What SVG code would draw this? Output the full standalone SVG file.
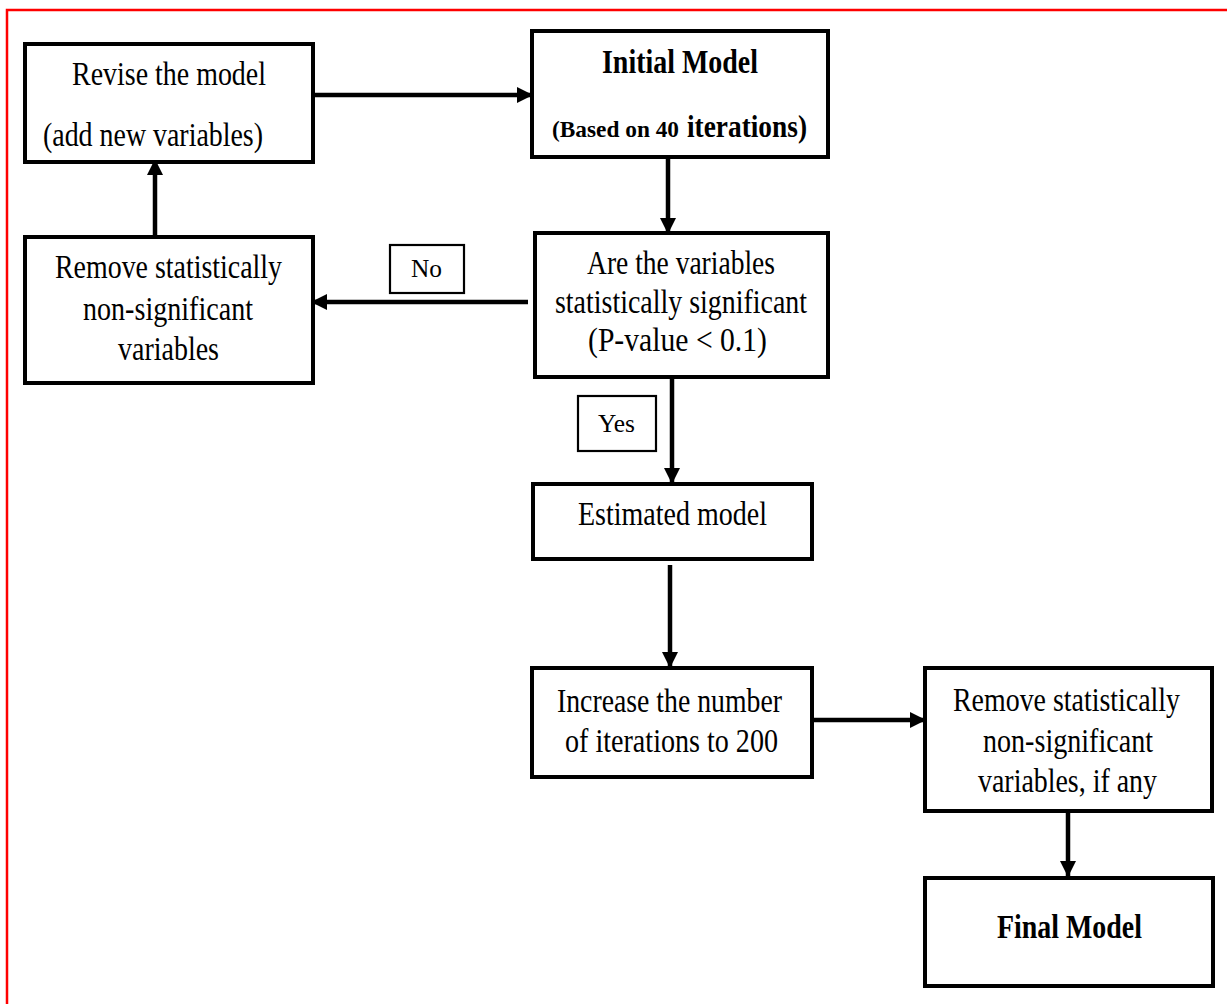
<svg xmlns="http://www.w3.org/2000/svg" width="1227" height="1004" viewBox="0 0 1227 1004">
<style>
.box{fill:#fff;stroke:#000;stroke-width:4}
.lbl{fill:#fff;stroke:#000;stroke-width:2.2}
.t{font-family:"Liberation Serif","Times New Roman",serif;font-size:33px;fill:#000}
.s{font-family:"Liberation Serif","Times New Roman",serif;font-size:26px;fill:#000}
.b{font-family:"Liberation Serif","Times New Roman",serif;font-size:33px;font-weight:bold;fill:#000}
.con{stroke:#000;stroke-width:4.5;fill:none;marker-end:url(#ah)}
</style>
<defs>
<marker id="ah" markerUnits="userSpaceOnUse" markerWidth="18" markerHeight="18" refX="15" refY="8" orient="auto">
<path d="M0,0 L16,8 L0,16 z" fill="#000"/>
</marker>
</defs>
<rect width="1227" height="1004" fill="#fff"/>
<path d="M7,1004 V10 H1227" fill="none" stroke="#ff0000" stroke-width="2.5"/>

<g id="connectors">
<line class="con" x1="313" y1="95" x2="532" y2="95"/>
<line class="con" x1="155" y1="237" x2="155" y2="160"/>
<line class="con" x1="668" y1="157" x2="668" y2="233"/>
<line class="con" x1="528" y1="302" x2="312" y2="302"/>
<line class="con" x1="672" y1="377" x2="672" y2="483"/>
<line class="con" x1="670" y1="565" x2="670" y2="667"/>
<line class="con" x1="812" y1="720" x2="925" y2="720"/>
<line class="con" x1="1068" y1="811" x2="1068" y2="876"/>
</g>

<g id="revise">
<rect class="box" x="25" y="44" width="288" height="118"/>
<text class="t" x="72" y="85" textLength="194" lengthAdjust="spacingAndGlyphs">Revise the model</text>
<text class="t" x="43" y="146" textLength="220" lengthAdjust="spacingAndGlyphs">(add new variables)</text>
</g>

<g id="remove1">
<rect class="box" x="25" y="237" width="288" height="146"/>
<text class="t" x="55" y="278" textLength="227" lengthAdjust="spacingAndGlyphs">Remove statistically</text>
<text class="t" x="83" y="320" textLength="170" lengthAdjust="spacingAndGlyphs">non-significant</text>
<text class="t" x="118" y="360" textLength="101" lengthAdjust="spacingAndGlyphs">variables</text>
</g>

<g id="initial">
<rect class="box" x="532" y="31" width="296" height="126"/>
<text class="b" x="602" y="73" textLength="156" lengthAdjust="spacingAndGlyphs">Initial Model</text>
<text class="b" x="552" y="137" style="font-size:24px" textLength="127" lengthAdjust="spacingAndGlyphs">(Based on 40</text>
<text class="b" x="687" y="137" style="font-size:31px" textLength="120" lengthAdjust="spacingAndGlyphs">iterations)</text>
</g>

<g id="decision">
<rect class="box" x="535" y="233" width="293" height="144"/>
<text class="t" x="587" y="274" textLength="188" lengthAdjust="spacingAndGlyphs">Are the variables</text>
<text class="t" x="555" y="313" textLength="252" lengthAdjust="spacingAndGlyphs">statistically significant</text>
<text class="t" x="588" y="351" textLength="179" lengthAdjust="spacingAndGlyphs">(P-value &lt; 0.1)</text>
</g>

<g id="no">
<rect class="lbl" x="390" y="245" width="74" height="48"/>
<text class="s" x="411" y="277" textLength="31" lengthAdjust="spacingAndGlyphs">No</text>
</g>

<g id="yes">
<rect class="lbl" x="578" y="396" width="78" height="55"/>
<text class="s" x="598" y="432" textLength="37" lengthAdjust="spacingAndGlyphs">Yes</text>
</g>

<g id="estimated">
<rect class="box" x="533" y="484" width="279" height="75"/>
<text class="t" x="578" y="525" textLength="189" lengthAdjust="spacingAndGlyphs">Estimated model</text>
</g>

<g id="increase">
<rect class="box" x="532" y="668" width="280" height="109"/>
<text class="t" x="557" y="712" textLength="225" lengthAdjust="spacingAndGlyphs">Increase the number</text>
<text class="t" x="565" y="752" textLength="213" lengthAdjust="spacingAndGlyphs">of iterations to 200</text>
</g>

<g id="remove2">
<rect class="box" x="925" y="668" width="287" height="143"/>
<text class="t" x="953" y="711" textLength="227" lengthAdjust="spacingAndGlyphs">Remove statistically</text>
<text class="t" x="983" y="752" textLength="170" lengthAdjust="spacingAndGlyphs">non-significant</text>
<text class="t" x="978" y="792" textLength="179" lengthAdjust="spacingAndGlyphs">variables, if any</text>
</g>

<g id="final">
<rect class="box" x="925" y="878" width="288" height="108"/>
<text class="b" x="997" y="938" textLength="145" lengthAdjust="spacingAndGlyphs">Final Model</text>
</g>
</svg>
